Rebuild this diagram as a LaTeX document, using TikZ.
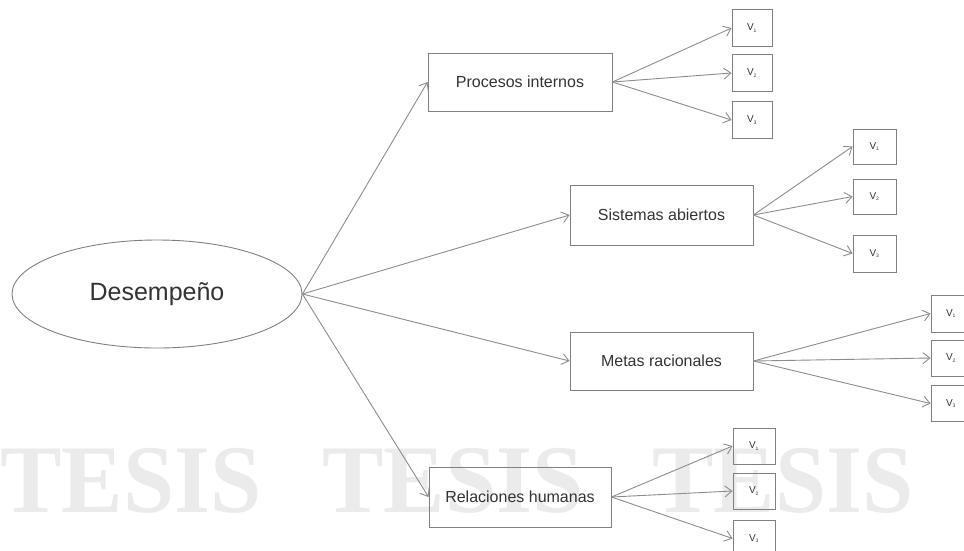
\documentclass[tikz,border=0pt]{standalone}
\usepackage{fontspec}
\setmainfont{Liberation Sans}
\newfontfamily\markfont{Liberation Serif}
\usetikzlibrary{arrows.meta,shapes.geometric}
\definecolor{edgegray}{HTML}{808080}
\definecolor{linegray}{HTML}{8C8C8C}
\definecolor{markgray}{HTML}{EBEBEB}
\definecolor{textgray}{HTML}{333333}
\tikzset{
  concept/.style={draw=edgegray, line width=0.9pt, ellipse, inner sep=0pt,
    minimum width=290pt, minimum height=108pt, text=textgray,
    font=\fontsize{25}{29}\selectfont},
  dimbox/.style={draw=edgegray, line width=0.9pt, rectangle, inner sep=0pt,
    minimum width=183pt, minimum height=58pt, text=textgray,
    font=\fontsize{16}{19}\selectfont},
  varbox/.style={draw=edgegray, line width=0.9pt, rectangle, inner sep=0pt,
    minimum width=41pt, minimum height=36pt, text=textgray,
    font=\fontsize{10}{12}\selectfont},
  link/.style={draw=linegray, line width=0.9pt,
    -{Straight Barb[length=7pt,width=11pt,line width=0.9pt]}},
  watermark/.style={text=markgray, anchor=base west, inner sep=0pt,
    font=\markfont\bfseries\fontsize{97}{97}\selectfont, xscale=0.95}
}
\newcommand{\vlab}[1]{V\textsubscript{\fontsize{5}{6}\selectfont #1}}
\begin{document}
\begin{tikzpicture}[x=1pt,y=-1pt]
\useasboundingbox (0,0) rectangle (964,550);

% background watermark
\node[watermark] (wm1) at (0,512) {TESIS};
\node[watermark] (wm2) at (322,512) {TESIS};
\node[watermark] (wm3) at (652,512) {TESIS};

% central concept
\node[concept] (des) at (157,294) {Desempeño};

% dimensions
\node[dimbox, minimum width=184pt] (proc) at (520,82) {Procesos internos};
\node[dimbox, minimum height=60pt] (sist) at (661.5,215) {Sistemas abiertos};
\node[dimbox] (meta) at (661.5,361) {Metas racionales};
\node[dimbox, minimum width=182pt, minimum height=60pt] (rel) at (520,497) {Relaciones humanas};

% variables of each dimension
\node[varbox, minimum width=40pt, minimum height=37pt] (p1) at (752,28) {\vlab{1}};
\node[varbox, minimum width=40pt, minimum height=37pt] (p2) at (752,73) {\vlab{2}};
\node[varbox, minimum width=40pt, minimum height=37pt] (p3) at (752,120) {\vlab{3}};

\node[varbox, minimum width=43pt, minimum height=35pt] (s1) at (874.5,146.5) {\vlab{1}};
\node[varbox, minimum width=43pt, minimum height=35pt] (s2) at (874.5,196.5) {\vlab{2}};
\node[varbox, minimum width=43pt, minimum height=37pt] (s3) at (874.5,253.5) {\vlab{3}};

% the last column runs past the right edge
\node[varbox, minimum width=40pt, minimum height=37pt] (m1) at (951,313.5) {\vlab{1}};
\node[varbox, minimum width=40pt, minimum height=36pt] (m2) at (951,358) {\vlab{2}};
\node[varbox, minimum width=40pt, minimum height=36pt] (m3) at (951,403.5) {\vlab{3}};

\node[varbox, minimum width=42pt] (r1) at (754,446) {\vlab{1}};
\node[varbox, minimum width=42pt] (r2) at (754,491) {\vlab{2}};
\node[varbox, minimum width=42pt, minimum height=37pt] (r3) at (754,538.5) {\vlab{3}};

% connectors
\foreach \d in {proc,sist,meta,rel}
  \draw[link] (des.east) -- (\d.west);
\foreach \d/\v in {proc/p,sist/s,meta/m,rel/r}
  \foreach \i in {1,2,3}
    \draw[link] (\d.east) -- (\v\i.west);
\end{tikzpicture}
\end{document}
